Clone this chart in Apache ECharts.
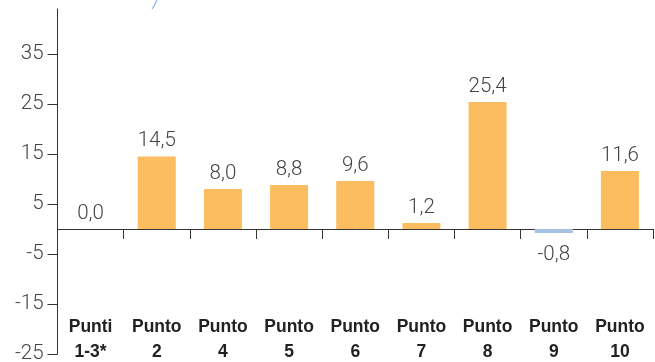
<!DOCTYPE html>
<html>
<head>
<meta charset="utf-8">
<script src="https://cdn.jsdelivr.net/npm/echarts@6/dist/echarts.min.js"></script>
<style>
  html, body { margin: 0; padding: 0; background: #fff; }
  #chart { width: 655px; height: 362px; }
</style>
</head>
<body>
<div id="chart"></div>
<script>
// Categories (two-line labels) and their values
const categories = ['Punti\n1-3*', 'Punto\n2', 'Punto\n4', 'Punto\n5', 'Punto\n6', 'Punto\n7', 'Punto\n8', 'Punto\n9', 'Punto\n10'];
const values = [0.0, 14.5, 8.0, 8.8, 9.6, 1.2, 25.4, -0.8, 11.6];
const yTicks = [-25, -15, -5, 5, 15, 25, 35];

const POS_COLOR = '#FCBD61';
const NEG_COLOR = '#A6C3E6';

const chart = echarts.init(document.getElementById('chart'), null, { renderer: 'canvas' });

const fmt = v => v.toFixed(1).replace('.', ',');

chart.setOption({
  animation: false,
  grid: { left: 57.5, right: 2, top: 9, bottom: 8, containLabel: false, outerBoundsMode: 'none' },
  xAxis: [{
    // zero line with category separators
    type: 'category',
    data: categories,
    boundaryGap: true,
    axisLine: { onZero: true, lineStyle: { color: '#333', width: 1 } },
    axisTick: { show: true, length: 10, lineStyle: { color: '#333' } },
    axisLabel: { show: false },
    splitLine: { show: false }
  }, {
    // category names along the bottom edge
    type: 'category',
    data: categories,
    position: 'bottom',
    boundaryGap: true,
    axisLine: { show: false, onZero: false },
    axisTick: { show: false },
    axisLabel: {
      margin: 11,
      verticalAlign: 'bottom',
      color: '#222',
      fontFamily: 'Liberation Sans',
      fontWeight: 'bold',
      fontSize: 17.5,
      lineHeight: 25,
      interval: 0
    },
    splitLine: { show: false }
  }],
  yAxis: {
    type: 'value',
    min: -25,
    max: 44,
    axisLine: { show: true, lineStyle: { color: '#333', width: 1 } },
    axisTick: { show: true, length: 10, customValues: yTicks, lineStyle: { color: '#333' } },
    axisLabel: {
      customValues: yTicks,
      margin: 14,
      color: '#444',
      fontFamily: 'Roboto',
      fontWeight: 300,
      fontSize: 20.5,
      formatter: v => String(v)
    },
    splitLine: { show: false }
  },
  series: [{
    type: 'bar',
    xAxisIndex: 0,
    barWidth: 38,
    data: values.map(v => ({
      value: v,
      itemStyle: { color: v < 0 ? NEG_COLOR : POS_COLOR },
      label: v < 0 ? { position: 'bottom', distance: 11 } : { position: 'top' }
    })),
    label: {
      show: true,
      distance: 5,
      color: '#444',
      fontFamily: 'Roboto',
      fontWeight: 300,
      fontSize: 20.5,
      formatter: p => fmt(p.value)
    }
  }],
  graphic: [{
    // small decorative stroke at the top edge
    type: 'polyline',
    shape: { points: [[157, 0], [154, 6], [152, 9]] },
    style: { stroke: '#7fb2e6', lineWidth: 1.2, fill: null }
  }]
});
</script>
</body>
</html>
